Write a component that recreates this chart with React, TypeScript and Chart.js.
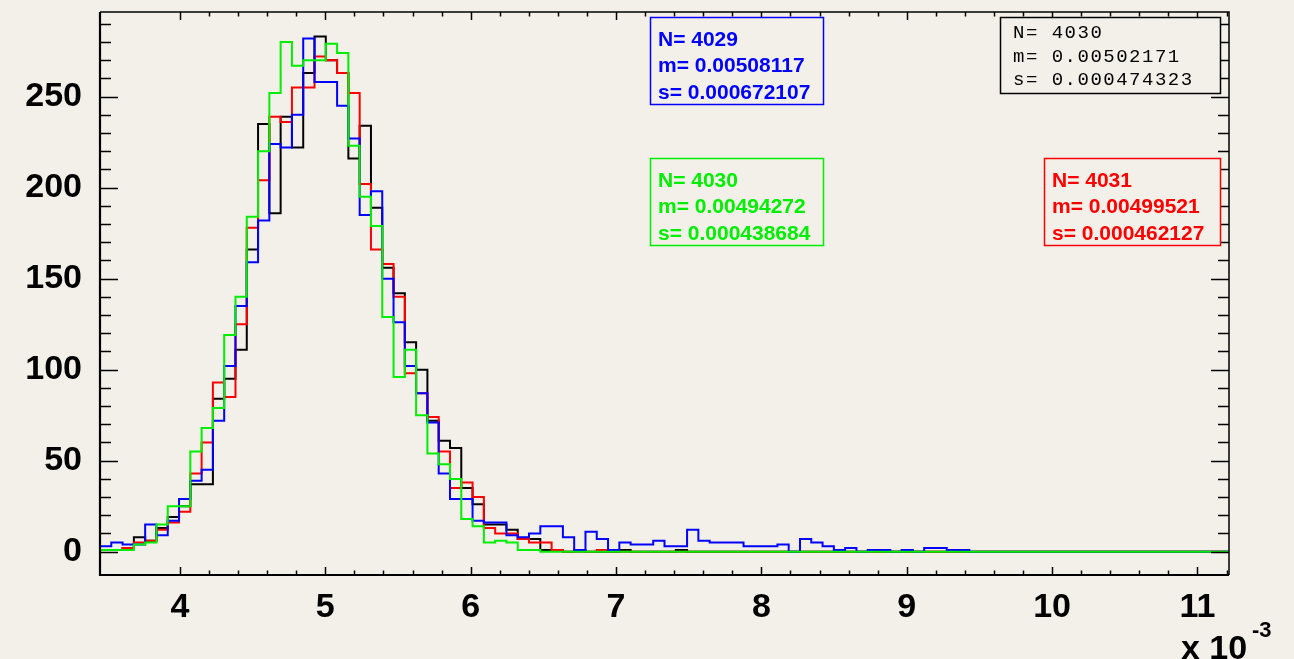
import { useEffect, useRef } from "react";
import { Chart, registerables } from "chart.js";

Chart.register(...registerables);

// Histogram definition (x in units of 1e-3)
const X_MIN = 3.45;
const X_MAX = 11.217;
const N_BINS = 100;
const Y_MIN = -12.8;
const Y_MAX = 296.5;

const X_TICKS = [4, 5, 6, 7, 8, 9, 10, 11];
const Y_TICKS = [0, 50, 100, 150, 200, 250];

// Bin contents, starting at the first bin; bins not listed are empty
const blackCounts = [
  1, 1, 2, 8, 6, 13, 19, 25, 37, 37,
  84, 95, 111, 166, 235, 186, 239, 222, 263, 283,
  270, 263, 216, 234, 189, 156, 142, 115, 100, 72,
  61, 57, 35, 26, 15, 15, 12, 7, 7, 1,
  1, 0, 1, 0, 0, 0, 1, 0, 0, 0,
  0, 1,
];
const redCounts = [
  1, 1, 2, 5, 6, 12, 16, 22, 43, 60,
  93, 85, 125, 178, 204, 239, 236, 255, 255, 272,
  270, 263, 252, 202, 166, 158, 140, 98, 87, 74,
  55, 35, 38, 30, 13, 10, 10, 7, 5, 5,
  1, 0, 0, 0, 1,
];
const greenCounts = [
  1, 1, 1, 4, 5, 15, 25, 25, 55, 68,
  79, 119, 140, 184, 220, 252, 280, 267, 270, 270,
  279, 274, 223, 195, 179, 129, 96, 111, 75, 54,
  48, 40, 18, 14, 5, 6, 5, 1, 1,
];
const blueCounts = [
  3, 5, 4, 4, 15, 9, 17, 29, 39, 45,
  72, 102, 135, 159, 182, 224, 222, 240, 282, 258,
  258, 245, 227, 185, 198, 150, 126, 102, 87, 71,
  43, 29, 29, 17, 16, 16, 9, 8, 10, 14,
  14, 8, 1, 11, 7, 1, 5, 4, 4, 6,
  3, 3, 12, 6, 5, 5, 5, 3, 3, 3,
  4, 0, 7, 5, 3, 1, 2, 0, 1, 1,
  0, 1, 0, 2, 2, 1, 1,
];

// Statistics boxes
const blueStats = ["N= 4029", "m= 0.00508117", "s= 0.000672107"];
const greenStats = ["N= 4030", "m= 0.00494272", "s= 0.000438684"];
const redStats = ["N= 4031", "m= 0.00499521", "s= 0.000462127"];
const blackStats = ["N= 4030", "m= 0.00502171", "s= 0.000474323"];

const BG = "#f3f0ea";
const SANS = '"Liberation Sans", Arial, Helvetica, sans-serif';
const MONO = '"Liberation Mono", "DejaVu Sans Mono", monospace';

function histPoints(counts: number[]) {
  const w = (X_MAX - X_MIN) / N_BINS;
  const pts: { x: number; y: number }[] = [];
  for (let k = 0; k < N_BINS; k++) {
    pts.push({ x: X_MIN + k * w, y: counts[k] ?? 0 });
  }
  pts.push({ x: X_MAX, y: counts[N_BINS - 1] ?? 0 });
  return pts;
}

const background = {
  id: "background",
  beforeDraw(chart: any) {
    const { ctx, width, height } = chart;
    ctx.save();
    ctx.fillStyle = BG;
    ctx.fillRect(0, 0, width, height);
    ctx.restore();
  },
};

const frame = {
  id: "frame",
  afterDatasetsDraw(chart: any) {
    const { ctx, chartArea: a, scales } = chart;
    const xs = scales.x;
    const ys = scales.y;
    ctx.save();
    ctx.strokeStyle = "#000";
    ctx.lineWidth = 1.5;
    ctx.beginPath();
    for (let i = 20; i <= 56; i++) {
      const px = Math.round(xs.getPixelForValue(i / 5)) + 0.5;
      const len = i % 5 === 0 ? 8 : 4.5;
      ctx.moveTo(px, a.bottom);
      ctx.lineTo(px, a.bottom - len);
      ctx.moveTo(px, a.top);
      ctx.lineTo(px, a.top + len);
    }
    for (let j = 0; j <= 29; j++) {
      const py = Math.round(ys.getPixelForValue(j * 10)) + 0.5;
      const len = j % 5 === 0 ? 18 : 11;
      ctx.moveTo(a.left, py);
      ctx.lineTo(a.left + len, py);
      ctx.moveTo(a.right, py);
      ctx.lineTo(a.right - len, py);
    }
    ctx.stroke();

    ctx.lineWidth = 1.5;
    ctx.beginPath();
    ctx.moveTo(a.left, a.top);
    ctx.lineTo(a.right, a.top);
    ctx.lineTo(a.right, a.bottom);
    ctx.stroke();

    ctx.lineWidth = 2.2;
    ctx.beginPath();
    ctx.moveTo(a.left, a.top);
    ctx.lineTo(a.left, a.bottom);
    ctx.lineTo(a.right, a.bottom);
    ctx.stroke();
    ctx.restore();
  },
};

type StatBox = {
  lines: string[];
  color: string;
  x: number;
  y: number;
  w: number;
  h: number;
  mono?: boolean;
};

const statBoxes: StatBox[] = [
  { lines: blueStats, color: "#0000ff", x: 650, y: 17, w: 173, h: 87 },
  { lines: greenStats, color: "#00ee00", x: 650, y: 158, w: 173, h: 87 },
  { lines: redStats, color: "#ff0000", x: 1044, y: 158, w: 176, h: 87 },
  { lines: blackStats, color: "#000000", x: 1000, y: 17, w: 220, h: 76, mono: true },
];

const annotations = {
  id: "annotations",
  afterDraw(chart: any) {
    const { ctx } = chart;
    ctx.save();
    for (const b of statBoxes) {
      ctx.fillStyle = BG;
      ctx.fillRect(b.x, b.y, b.w, b.h);
      ctx.strokeStyle = b.color;
      ctx.lineWidth = 1.5;
      ctx.strokeRect(b.x + 0.5, b.y + 0.5, b.w, b.h);
      ctx.fillStyle = b.color;
      ctx.textBaseline = "middle";
      ctx.textAlign = "left";
      if (b.mono) {
        ctx.font = `normal 19px ${MONO}`;
        (ctx as any).letterSpacing = "1.5px";
        b.lines.forEach((t, i) => ctx.fillText(t, b.x + 13, b.y + 16 + i * 23.5));
        (ctx as any).letterSpacing = "0px";
      } else {
        ctx.font = `bold 21px ${SANS}`;
        b.lines.forEach((t, i) => ctx.fillText(t, b.x + 8, b.y + 23 + i * 26.5));
      }
    }
    // axis multiplier
    ctx.fillStyle = "#000";
    ctx.textBaseline = "alphabetic";
    ctx.textAlign = "left";
    ctx.font = `bold 34px ${SANS}`;
    ctx.fillText("x 10", 1181, 659);
    ctx.font = `bold 22px ${SANS}`;
    ctx.fillText("-3", 1252, 637);
    ctx.restore();
  },
};

export default function App() {
  const canvasRef = useRef<HTMLCanvasElement | null>(null);

  useEffect(() => {
    document.body.style.margin = "0";
    const canvas = canvasRef.current;
    if (!canvas) return;
    const lineDs = (label: string, counts: number[], color: string) => ({
      label,
      data: histPoints(counts),
      borderColor: color,
      backgroundColor: color,
      borderWidth: 2,
      pointRadius: 0,
      stepped: true as const,
      fill: false,
      tension: 0,
    });
    const chart = new Chart(canvas, {
      type: "line",
      data: {
        datasets: [
          lineDs("green", greenCounts, "#00ee00"),
          lineDs("blue", blueCounts, "#0000ff"),
          lineDs("red", redCounts, "#ff0000"),
          lineDs("black", blackCounts, "#000000"),
        ],
      },
      options: {
        animation: false,
        responsive: false,
        devicePixelRatio: 1,
        events: [],
        layout: { padding: { left: 0, right: 65, top: 12, bottom: 0 } },
        plugins: { legend: { display: false }, tooltip: { enabled: false } },
        scales: {
          x: {
            type: "linear",
            min: X_MIN,
            max: X_MAX,
            grid: { display: false, drawTicks: false },
            border: { display: false },
            afterBuildTicks: (s: any) => {
              s.ticks = X_TICKS.map((v) => ({ value: v }));
            },
            afterFit: (s: any) => {
              s.height = 84;
              s.paddingLeft = 0;
              s.paddingRight = 0;
            },
            ticks: {
              color: "#000",
              padding: 12,
              maxRotation: 0,
              autoSkip: false,
              font: { family: SANS, size: 34, weight: "bold" },
              callback: (v: any) => String(v),
            },
          },
          y: {
            type: "linear",
            min: Y_MIN,
            max: Y_MAX,
            grid: { display: false, drawTicks: false },
            border: { display: false },
            afterBuildTicks: (s: any) => {
              s.ticks = Y_TICKS.map((v) => ({ value: v }));
            },
            afterFit: (s: any) => {
              s.width = 100;
              s.paddingTop = 0;
              s.paddingBottom = 0;
            },
            ticks: {
              color: "#000",
              padding: 18,
              autoSkip: false,
              font: { family: SANS, size: 34, weight: "bold" },
              callback: (v: any) => String(v),
            },
          },
        },
      },
      plugins: [background, frame, annotations],
    });
    return () => chart.destroy();
  }, []);

  return (
    <div style={{ position: "fixed", left: 0, top: 0, width: 1294, height: 659, background: BG }}>
      <canvas ref={canvasRef} width={1294} height={659} style={{ display: "block" }} />
    </div>
  );
}
